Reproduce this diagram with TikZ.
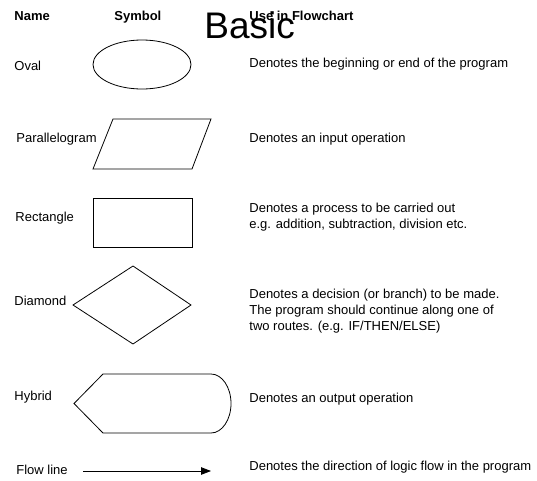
\documentclass[tikz,border=0pt]{standalone}
\usepackage{fontspec}
\setmainfont{Liberation Sans}
\usetikzlibrary{arrows.meta}
\tikzset{>/.tip={Triangle[length=10pt,width=7.5pt]},
  txt/.style={anchor=base west, inner sep=0pt, align=left, font=\fontsize{13}{16}\selectfont},
  head/.style={txt, font=\fontsize{13}{16}\selectfont\bfseries}}

\begin{document}
\begin{tikzpicture}[x=1pt,y=-1pt,line width=0.8pt]
\useasboundingbox (0,0) rectangle (537,480);
\node[head] (name) at (14,20.5)  {Name};
\node[head] (symbol) at (114,20.5) {Symbol};
\node[head] (use) at (249,20.5) {Use in Flowchart};
\node[txt, font=\fontsize{37}{40}\selectfont] (basic) at (204,38) {Basic};
% left column
\node[txt] (oval) at (14,70.5)  {Oval};
\node[txt] (para) at (16,142.5) {Parallelogram};
\node[txt] (rect) at (15,221)   {Rectangle};
\node[txt] (diam) at (14,305)   {Diamond};
\node[txt] (hyb)  at (14,400.5) {Hybrid};
\node[txt] (flow) at (16,474.5) {Flow line};
% symbols
\draw (142,64.5) ellipse [x radius=49, y radius=24.5];
\draw (93,169) -- (192,169) -- (211,119) -- (113,119) -- cycle;
\draw (93,198) rectangle (192,247);
\draw (73,305) -- (133,266) -- (191,305) -- (133,344) -- cycle;
\draw (74,403.5) -- (103,374) -- (211,374)
  arc [start angle=-90, end angle=90, x radius=20, y radius=29.5]
  -- (103,433) -- cycle;
\coordinate (fa) at (83,471);
\coordinate (fb) at (211,471);
\draw[->] (fa) -- (fb);
% use column (multi-line: base is the last line)
\node[txt] (dOval) at (249,67.5)  {Denotes the beginning or end of the program};
\node[txt] (dPara) at (249,142.5) {Denotes an input operation};
\node[txt] (dRect) at (249,228)   {Denotes a process to be carried out\\e.g. addition, subtraction, division etc.};
\node[txt] (dDiam) at (249,330)   {Denotes a decision (or branch) to be made.\\The program should continue along one of\\two routes. (e.g. IF/THEN/ELSE)};
\node[txt] (dHyb)  at (249,402.5) {Denotes an output operation};
\node[txt] (dFlow) at (249,470.5) {Denotes the direction of logic flow in the program};
\end{tikzpicture}
\end{document}
